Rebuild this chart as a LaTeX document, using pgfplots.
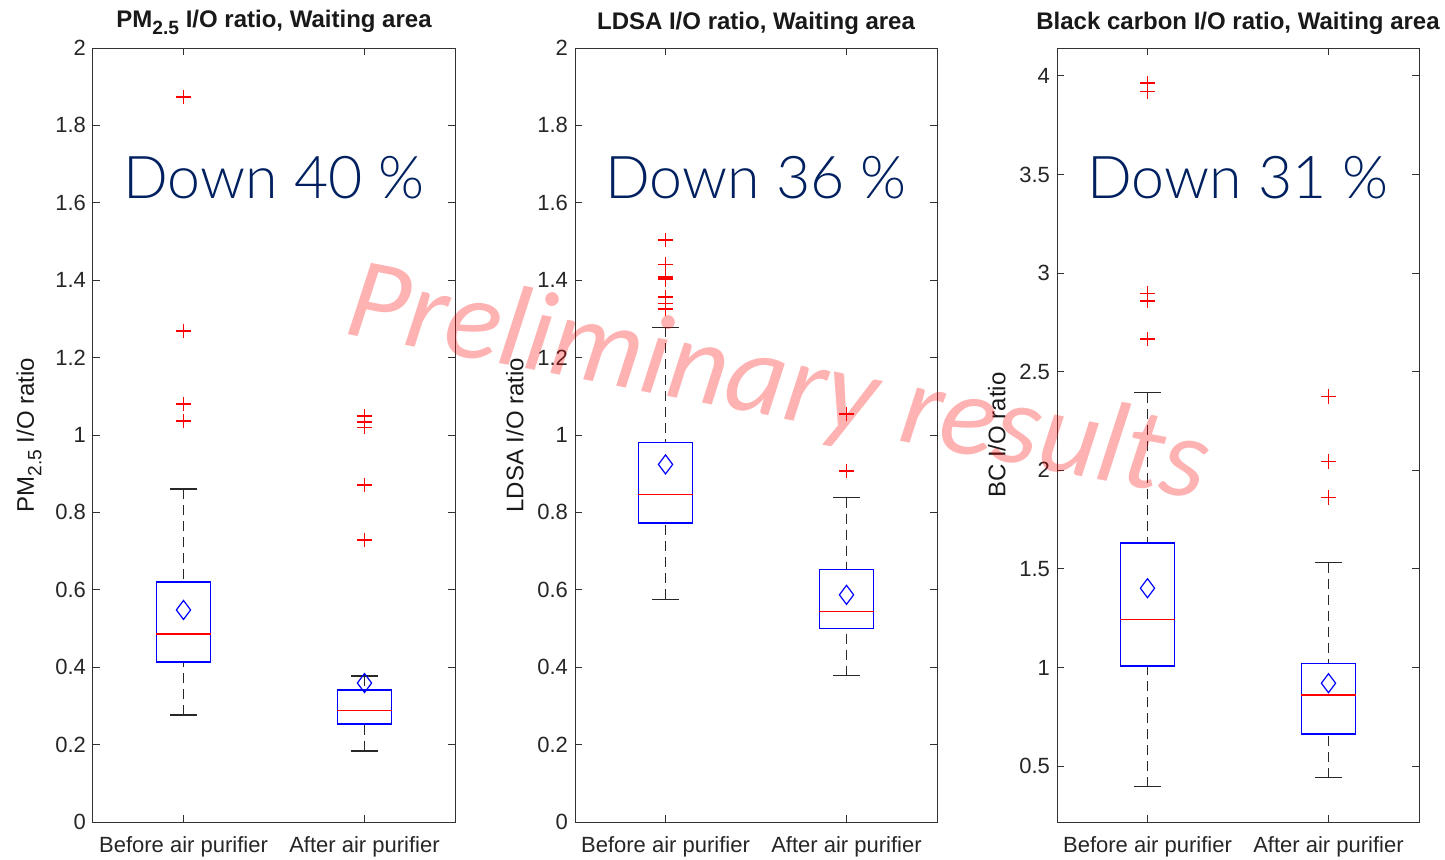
\documentclass[border=0pt]{standalone}
\usepackage{fontspec}
\setmainfont{Liberation Sans}
\newfontfamily\downfont{Lato Light}
\newfontfamily\wmfont{Carlito}
\usepackage{graphicx}
\usepackage{pgfplots}
\pgfplotsset{compat=1.18}
\usepgfplotslibrary{statistics}
\definecolor{navy}{RGB}{0,32,96}
\definecolor{axgray}{RGB}{50,50,50}
\definecolor{whisk}{RGB}{40,40,40}
\newcommand\msub[1]{\raisebox{-0.6ex}{\scalebox{0.8}{#1}}}
\tikzset{downtxt/.style={font=\downfont\fontsize{29.5}{32}\selectfont, text=navy, anchor=center}}
\pgfplotsset{
  myaxis/.style={
    scale only axis, width=181pt, height=387pt, anchor=south west,
    xmin=0.5, xmax=2.5, xtick={1,2},
    xticklabels={Before air purifier, After air purifier},
    tick align=inside, major tick length=3.5pt,
    axis line style={axgray, line width=0.5pt},
    every tick/.style={axgray, line width=0.5pt},
    tick label style={font=\fontsize{11}{13}\selectfont, text=black!85},
    xticklabel style={yshift=-3.5pt},
    /pgf/number format/assume math mode=true,
    title style={font=\bfseries\fontsize{12}{14}\selectfont, text=black!90, yshift=-3pt},
    ylabel style={font=\fontsize{12}{14}\selectfont, text=black!90},
    clip=false,
    boxplot/draw direction=y,
    boxplot/box extend=0.3,
    boxplot/whisker extend=0.15,
    boxplot/every box/.style={draw=blue, line width=0.8pt},
    boxplot/every median/.style={draw=red, line width=0.6pt},
    boxplot/every whisker/.style={draw=whisk, line width=0.7pt, dash pattern=on 5pt off 3pt},
    boxplot/draw/lower whisker/.code={%
      \draw[/pgfplots/boxplot/every whisker/.try]
        (boxplot box cs:\pgfplotsboxplotvalue{lower whisker},0.5) --
        (boxplot box cs:\pgfplotsboxplotvalue{lower quartile},0.5);
      \draw[whisk, line width=0.7pt]
        (boxplot whisker cs:\pgfplotsboxplotvalue{lower whisker},0) --
        (boxplot whisker cs:\pgfplotsboxplotvalue{lower whisker},1);
    },
    boxplot/draw/upper whisker/.code={%
      \draw[/pgfplots/boxplot/every whisker/.try]
        (boxplot box cs:\pgfplotsboxplotvalue{upper whisker},0.5) --
        (boxplot box cs:\pgfplotsboxplotvalue{upper quartile},0.5);
      \draw[whisk, line width=0.7pt]
        (boxplot whisker cs:\pgfplotsboxplotvalue{upper whisker},0) --
        (boxplot whisker cs:\pgfplotsboxplotvalue{upper whisker},1);
    },
  },
  bx/.style={blue, mark=none, boxplot/draw direction=y},
  outl/.style={only marks, mark=+, mark size=3.6pt, red, mark options={solid, line width=0.7pt}},
  meanmark/.style={only marks, mark=diamond, mark size=4.75pt, blue, mark options={solid, line width=0.6pt}},
}
\begin{document}
\begin{tikzpicture}
\useasboundingbox (0,0) rectangle (722.5pt,429.5pt);
% ---------- Panel 1 ----------
\begin{axis}[myaxis, at={(46.5pt,18.5pt)},
  ymin=0, ymax=2, ytick={0,0.2,0.4,0.6,0.8,1,1.2,1.4,1.6,1.8,2},
  title={PM\msub{2.5} I/O ratio, Waiting area},
  ylabel={PM\msub{2.5} I/O ratio}]
\addplot[bx, boxplot prepared={draw position=1, lower whisker=0.276, lower quartile=0.413,
  median=0.486, upper quartile=0.620, upper whisker=0.860}] coordinates {};
\addplot[bx, boxplot prepared={draw position=2, lower whisker=0.183, lower quartile=0.253,
  median=0.289, upper quartile=0.341, upper whisker=0.377}] coordinates {};
\addplot[outl] coordinates {(1,1.873) (1,1.269) (1,1.080) (1,1.036)
  (2,1.049) (2,1.034) (2,1.020) (2,0.871) (2,0.729)};
\addplot[meanmark] coordinates {(1,0.548) (2,0.359)};
\node[downtxt] at (axis description cs:0.5,0.832) {Down 40 \%};
\end{axis}
% ---------- Panel 2 ----------
\begin{axis}[myaxis, at={(287.5pt,18.5pt)},
  ymin=0, ymax=2, ytick={0,0.2,0.4,0.6,0.8,1,1.2,1.4,1.6,1.8,2},
  title={LDSA I/O ratio, Waiting area},
  ylabel={LDSA I/O ratio}]
\addplot[bx, boxplot prepared={draw position=1, lower whisker=0.575, lower quartile=0.772,
  median=0.847, upper quartile=0.981, upper whisker=1.278}] coordinates {};
\addplot[bx, boxplot prepared={draw position=2, lower whisker=0.378, lower quartile=0.500,
  median=0.543, upper quartile=0.652, upper whisker=0.838}] coordinates {};
\addplot[outl] coordinates {(1,1.504) (1,1.441) (1,1.408) (1,1.405) (1,1.402) (1,1.357) (1,1.340) (1,1.326)
  (2,1.054) (2,0.907)};
\addplot[meanmark] coordinates {(1,0.924) (2,0.587)};
\node[downtxt] at (axis description cs:0.5,0.832) {Down 36 \%};
\end{axis}
% ---------- Panel 3 ----------
\begin{axis}[myaxis, at={(528.5pt,18.5pt)},
  ymin=0.216, ymax=4.142, ytick={0.5,1,1.5,2,2.5,3,3.5,4},
  title={Black carbon I/O ratio, Waiting area},
  ylabel={BC I/O ratio}]
\addplot[bx, boxplot prepared={draw position=1, lower whisker=0.395, lower quartile=1.007,
  median=1.244, upper quartile=1.630, upper whisker=2.394}] coordinates {};
\addplot[bx, boxplot prepared={draw position=2, lower whisker=0.441, lower quartile=0.662,
  median=0.860, upper quartile=1.021, upper whisker=1.531}] coordinates {};
\addplot[outl] coordinates {(1,3.964) (1,3.921) (1,2.898) (1,2.859) (1,2.666)
  (2,2.374) (2,2.044) (2,1.861)};
\addplot[meanmark] coordinates {(1,1.402) (2,0.920)};
\node[downtxt] at (axis description cs:0.5,0.832) {Down 31 \%};
\end{axis}
% ---------- Watermark ----------
\node[anchor=base west, rotate=-11, text=red, text opacity=0.3, inner sep=0pt,
  font=\wmfont\itshape\fontsize{58}{62}\selectfont] at (171pt,263pt) {Preliminary results};
\end{tikzpicture}
\end{document}
